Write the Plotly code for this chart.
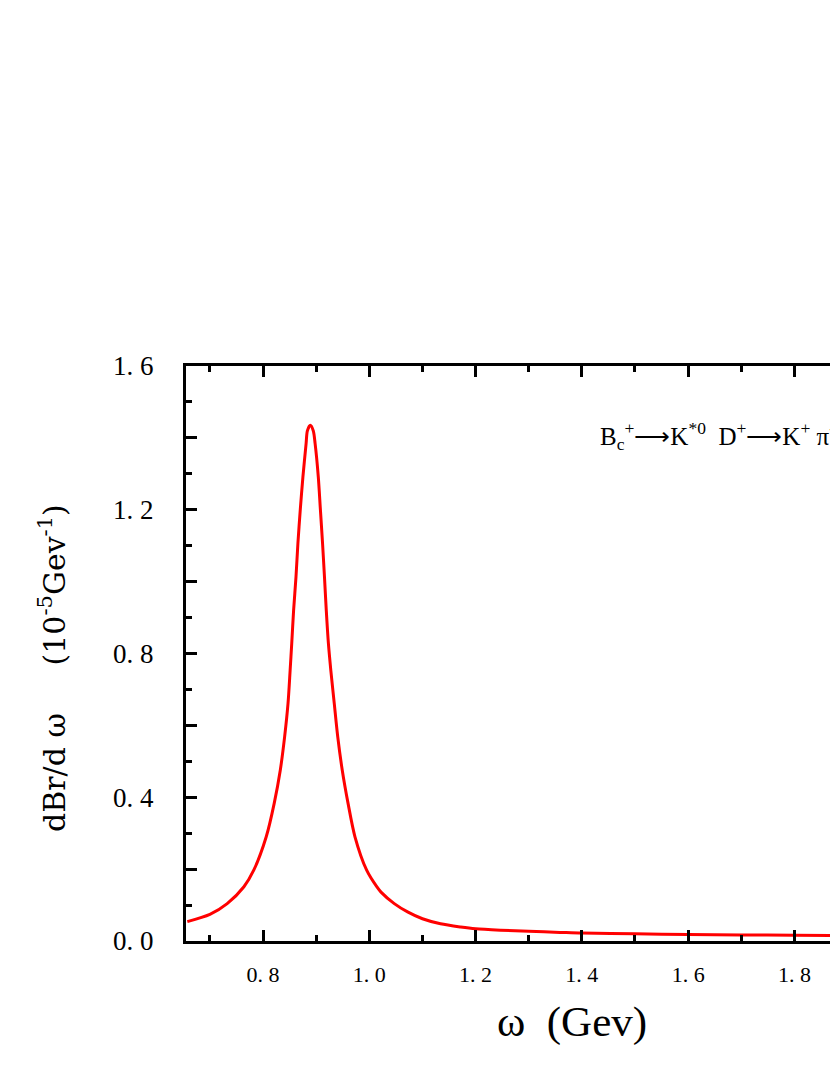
import plotly.graph_objects as go

# values
omega = [0.6575, 0.70, 0.7325, 0.764, 0.7825, 0.806, 0.821, 0.8325, 0.8406, 0.847,
         0.851, 0.854, 0.8575, 0.862, 0.8656, 0.870, 0.875, 0.881, 0.8835, 0.889,
         0.8945, 0.898, 0.904, 0.908, 0.912, 0.9156, 0.919, 0.923, 0.9275, 0.934,
         0.9406, 0.949, 0.96, 0.973, 0.995, 1.014, 1.022, 1.047, 1.072, 1.1,
         1.134, 1.172, 1.2, 1.247, 1.3, 1.359, 1.4, 1.5, 1.6, 1.7,
         1.8, 1.87]
dbr = [0.054, 0.074, 0.104, 0.151, 0.197, 0.290, 0.383, 0.476, 0.568, 0.661,
       0.754, 0.828, 0.920, 1.013, 1.106, 1.199, 1.291, 1.384, 1.420, 1.435,
       1.420, 1.384, 1.291, 1.199, 1.106, 1.013, 0.920, 0.828, 0.754, 0.661,
       0.568, 0.476, 0.383, 0.290, 0.197, 0.151, 0.136, 0.104, 0.081, 0.062,
       0.048, 0.039, 0.034, 0.030, 0.027, 0.024, 0.022, 0.020, 0.018, 0.017,
       0.016, 0.015]

x_ticks = [0.8, 1.0, 1.2, 1.4, 1.6, 1.8]
x_labels = ["0. 8", "1. 0", "1. 2", "1. 4", "1. 6", "1. 8"]
x_minor = [0.7, 0.9, 1.1, 1.3, 1.5, 1.7]
y_ticks = [0.0, 0.2, 0.4, 0.6, 0.8, 1.0, 1.2, 1.4, 1.6]
y_labels = ["0. 0", "", "0. 4", "", "0. 8", "", "1. 2", "", "1. 6"]
y_minor = [0.1, 0.3, 0.5, 0.7, 0.9, 1.1, 1.3, 1.5]

FONT = "Liberation Serif"
NB = "\u00a0"

fig = go.Figure()
fig.add_trace(go.Scatter(x=omega, y=dbr, mode="lines",
                         line=dict(color="#ff0000", width=3, shape="spline", smoothing=0.8),
                         showlegend=False, hoverinfo="skip"))

fig.update_layout(
    width=830, height=1075,
    margin=dict(l=186, r=0, t=366, b=134),
    paper_bgcolor="white", plot_bgcolor="white",
    font=dict(family=FONT, color="black"),
)
fig.update_xaxes(
    range=[0.655, 1.867], showgrid=False, zeroline=False,
    showline=True, linecolor="black", linewidth=3, mirror="allticks",
    tickmode="array", tickvals=x_ticks, ticktext=x_labels,
    ticks="inside", ticklen=11, tickwidth=3, tickcolor="black",
    tickfont=dict(family=FONT, size=22), ticklabelstandoff=12,
    minor=dict(tickmode="array", tickvals=x_minor, ticks="inside",
               ticklen=6, tickwidth=3, tickcolor="black"),
)
fig.update_yaxes(
    range=[0, 1.6], showgrid=False, zeroline=False,
    showline=True, linecolor="black", linewidth=3, mirror=False,
    tickmode="array", tickvals=y_ticks, ticktext=y_labels,
    ticks="inside", ticklen=11, tickwidth=3, tickcolor="black",
    tickfont=dict(family=FONT, size=27), ticklabelstandoff=24,
    minor=dict(tickmode="array", tickvals=y_minor, ticks="inside",
               ticklen=6, tickwidth=3, tickcolor="black"),
)

# axis titles as annotations (plot continues past the right edge in the reference)
fig.add_annotation(xref="paper", yref="paper", x=(572 - 186) / 644, y=(941 - 1022) / 575,
                   text="ω" + NB * 2 + "(Gev)", showarrow=False, font=dict(family=FONT, size=43),
                   xanchor="center", yanchor="middle")
fig.add_annotation(xref="paper", yref="paper", x=(52 - 186) / 644, y=(941 - 668) / 575,
                   text="dBr/d" + NB + "ω" + NB * 5 + "(10<sup>-5</sup>Gev<sup>-1</sup>)",
                   textangle=-90, showarrow=False, font=dict(family="DejaVu Serif", size=30),
                   xanchor="center", yanchor="middle")
fig.add_annotation(xref="paper", yref="paper", x=(598 - 186) / 644, y=(941 - 436) / 575,
                   text="B<sub>c</sub><sup>+</sup>⟶K<sup>*0</sup>" + NB * 2
                        + "D<sup>+</sup>⟶K<sup>+</sup> π<sup>-</sup>",
                   showarrow=False, font=dict(family=FONT, size=25),
                   xanchor="left", yanchor="middle")

# drop the default 8px body margin so the figure sits flush with the window
fig.write_html("out.html", config={"displayModeBar": False},
               post_script="document.body.style.margin='0';")
